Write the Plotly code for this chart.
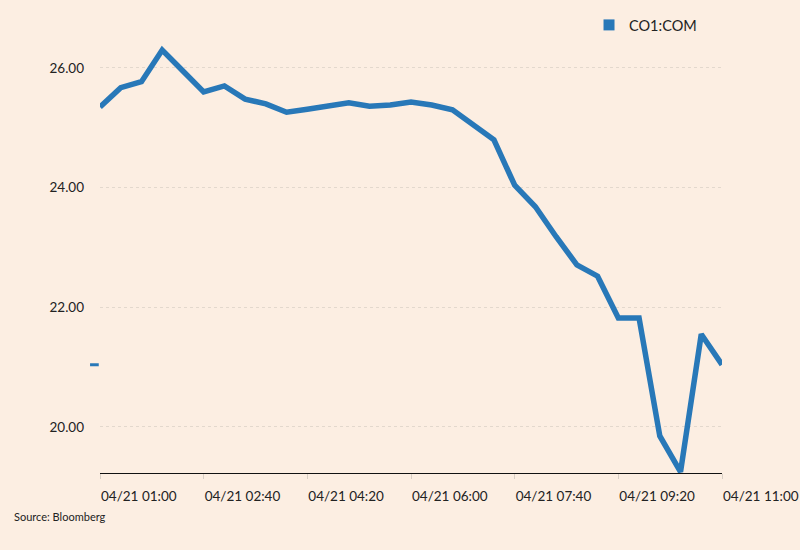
import plotly.graph_objects as go
import pandas as pd

times = pd.date_range("2020-04-21 01:00", "2020-04-21 11:00", freq="20min")
prices = [25.35, 25.67, 25.77, 26.30, 25.95, 25.60, 25.70, 25.48, 25.40, 25.26,
          25.31, 25.36, 25.42, 25.36, 25.38, 25.43, 25.38, 25.30, 25.05, 24.80,
          24.04, 23.68, 23.18, 22.71, 22.52, 21.82, 21.82, 19.85, 19.25, 21.55,
          21.04]
series_name = "CO1:COM"
y_ticks = [20, 22, 24, 26]
source_text = "Source: Bloomberg"

BG = "#FCEEE2"
LINE = "#2878B8"
FONT = "Lato, 'Open Sans', sans-serif"

fig = go.Figure()
fig.add_trace(go.Scatter(x=list(times), y=prices, mode="lines",
                         line=dict(color=LINE, width=5.5), showlegend=False,
                         hoverinfo="x+y"))
fig.add_trace(go.Scatter(x=[None], y=[None], mode="markers", name=series_name,
                         marker=dict(symbol="square", size=11, color=LINE),
                         showlegend=True))

# last value marker on the y axis
fig.add_shape(type="line", xref="paper", yref="y", x0=-0.016, x1=-0.002,
              y0=prices[-1], y1=prices[-1], line=dict(color=LINE, width=3))

fig.add_annotation(text=source_text, xref="paper", yref="paper",
                   x=-0.141, y=-0.095, xanchor="left", yanchor="middle",
                   showarrow=False, font=dict(size=11, color="#222", family=FONT))

fig.update_layout(
    width=800, height=550,
    paper_bgcolor=BG, plot_bgcolor=BG,
    margin=dict(l=100, r=78, t=20, b=77, autoexpand=False),
    font=dict(family=FONT, color="#222"),
    legend=dict(x=0.7862, y=0.989, xanchor="left", yanchor="middle",
                bgcolor="rgba(0,0,0,0)", font=dict(size=14.5, color="#222"),
                itemwidth=30, tracegroupgap=0),
    xaxis=dict(
        range=[times[0], times[-1]],
        tick0=times[0], dtick=100 * 60 * 1000, tickformat="%m/%d %H:%M",
        showgrid=False, showline=True, linecolor="#111", linewidth=1,
        ticks="outside", ticklen=5, tickcolor="#d9cfc5",
        ticklabelposition="outside right", ticklabelstandoff=11,
        ticklabeloverflow="allow",
        tickfont=dict(size=13.5, color="#222"), zeroline=False,
    ),
    yaxis=dict(
        range=[19.231, 26.802], tickvals=y_ticks,
        ticktext=[f"{v:.2f}" for v in y_ticks],
        showgrid=True, gridcolor="#E3D8CD", gridwidth=1, griddash="dot",
        showline=False, zeroline=False, ticks="",
        ticklabelstandoff=15, tickfont=dict(size=13.5, color="#222"),
    ),
)

fig.write_html("out.html", config={"displayModeBar": False},
               post_script="document.body.style.margin='0';document.body.style.overflow='hidden';")
